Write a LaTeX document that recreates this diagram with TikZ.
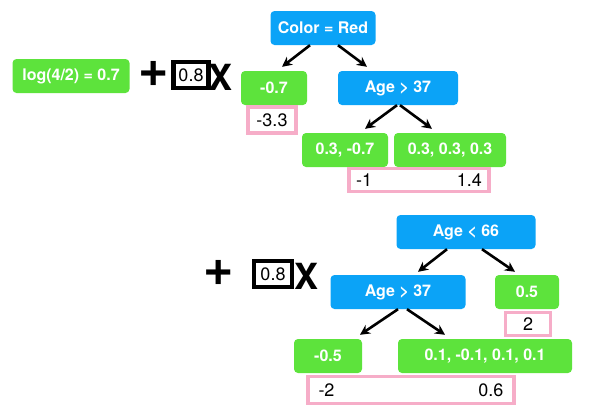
\documentclass[tikz,border=0pt]{standalone}
\usepackage{fontspec}
\setmainfont{TeX Gyre Heros}
\usetikzlibrary{arrows.meta, positioning, calc}
\definecolor{splitblue}{HTML}{0BA3F7}
\definecolor{leafgreen}{HTML}{5DE33C}
\definecolor{boxpink}{HTML}{F6ADC8}

\begin{document}
\begin{tikzpicture}[x=1pt, y=-1pt, >={Stealth[length=10pt,width=10pt]},
  split/.style={fill=splitblue, text=white, rounded corners=4pt, minimum height=34pt, inner sep=2pt, font=\fontsize{16}{18}\selectfont\bfseries},
  leaf/.style={split, fill=leafgreen},
  resid/.style={draw=boxpink, fill=white, line width=3.5pt, minimum height=26pt, inner xsep=5pt, inner ysep=2pt, font=\fontsize{18}{20}\selectfont},
  rate/.style={draw=black, line width=4.5pt, minimum width=35pt, minimum height=26pt, inner sep=1pt, font=\fontsize{18}{20}\selectfont},
  plus/.style={inner sep=0pt, font=\fontsize{52}{52}\selectfont\bfseries},
  times/.style={inner sep=0pt, font=\fontsize{36}{36}\selectfont\bfseries},
  arr/.style={->, line width=2.6pt}]
  \useasboundingbox (0,0) rectangle (591,413);
  % --- first tree ---
  \node[leaf, minimum width=117pt] (init) at (71,76) {log(4/2) = 0.7};
  \node[plus] (plusA) at (154,74) {+};
  \node[rate] (rateA) at (191,75) {0.8};
  \node[times] (timesA) at (221,77) {X};
  \node[split, minimum width=105pt] (color) at (323,28) {Color = Red};
  \node[leaf, minimum width=66pt] (leafA) at (274,88) {-0.7};
  \node[resid, minimum width=48pt] (residA) at (272,120) {-3.3};
  \node[split, minimum width=120pt] (ageA) at (398,88) {Age > 37};
  \node[leaf, minimum width=86pt] (leafB) at (345,150) {0.3, -0.7};
  \node[leaf, minimum width=112pt] (leafC) at (450,150) {0.3, 0.3, 0.3};
  \node[resid, minimum width=140pt, minimum height=23pt, text width=126pt] (residB) at (419,180) {-1\hfill 1.4};
  \draw[arr] ([xshift=-13pt]color.south) -- ([xshift=8pt,yshift=4pt]leafA.north);
  \draw[arr] ([xshift=15pt]color.south) -- ([xshift=-31pt,yshift=4pt]ageA.north);
  \draw[arr] ([xshift=-1pt]ageA.south) -- ([xshift=20pt,yshift=4pt]leafB.north);
  \draw[arr] ([xshift=2pt]ageA.south) -- ([xshift=-18pt,yshift=4pt]leafC.north);
  % --- second tree ---
  \node[plus] (plusB) at (219,273) {+};
  \node[rate, minimum width=38pt] (rateB) at (273,274) {0.8};
  \node[times] (timesB) at (307,276) {X};
  \node[split, minimum width=139pt] (rootB) at (466,232) {Age < 66};
  \node[split, minimum width=135pt] (ageB) at (398,292) {Age > 37};
  \node[leaf, minimum width=64pt] (leafD) at (527,292) {0.5};
  \node[resid, minimum width=45pt, minimum height=23pt] (residC) at (528,324) {2};
  \node[leaf, minimum width=68pt] (leafE) at (328,356) {-0.5};
  \node[leaf, minimum width=174pt] (leafF) at (485,356) {0.1, -0.1, 0.1, 0.1};
  \node[resid, minimum width=206pt, minimum height=27pt, text width=185pt] (residD) at (411,390) {-2\hfill 0.6};
  \draw[arr] ([xshift=-19pt]rootB.south) -- ([xshift=20pt,yshift=3pt]ageB.north);
  \draw[arr] ([xshift=16pt]rootB.south) -- ([xshift=-12pt,yshift=3pt]leafD.north);
  \draw[arr] (ageB.south) -- ([xshift=32pt,yshift=4pt]leafE.north);
  \draw[arr] ([xshift=9pt]ageB.south) -- ([xshift=-40pt,yshift=4pt]leafF.north);
\end{tikzpicture}
\end{document}
